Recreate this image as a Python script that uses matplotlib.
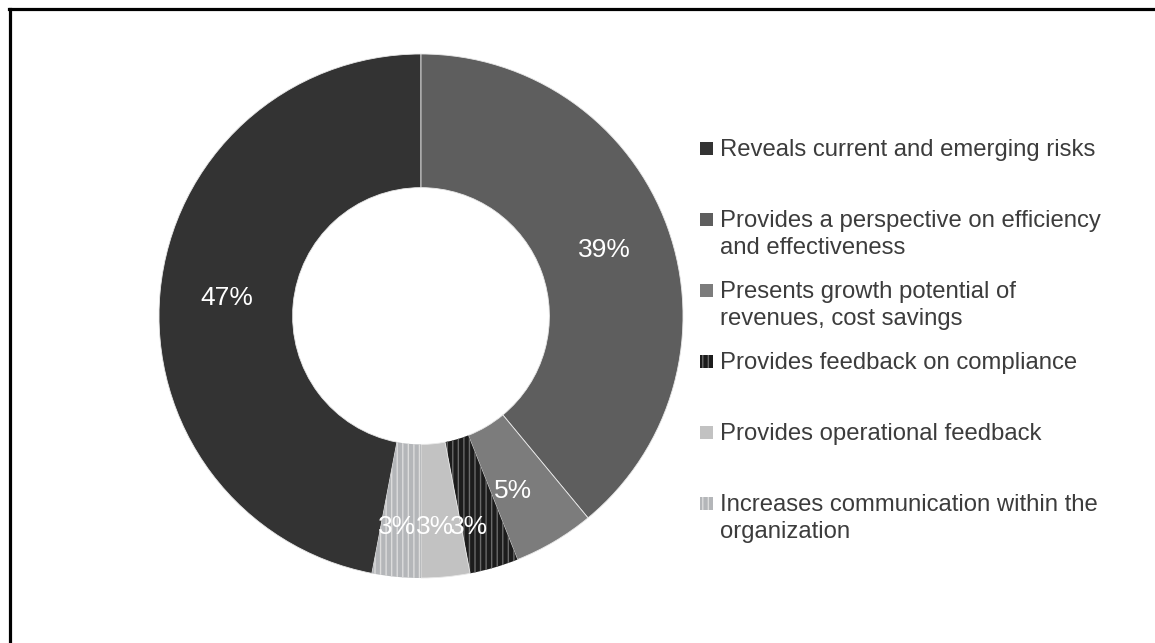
import matplotlib
matplotlib.use("Agg")
import matplotlib.pyplot as plt
from matplotlib.lines import Line2D
from matplotlib.patches import Rectangle
import numpy as np

plt.rcParams['font.family'] = ['Liberation Sans', 'DejaVu Sans']

# Share of respondents per perceived benefit (legend order)
categories = [
    "Reveals current and emerging risks",
    "Provides a perspective on efficiency\nand effectiveness",
    "Presents growth potential of\nrevenues, cost savings",
    "Provides feedback on compliance",
    "Provides operational feedback",
    "Increases communication within the\norganization",
]
shares = [47, 39, 5, 3, 3, 3]

colors = ["#333333", "#5e5e5e", "#7c7c7c", "#1c1c1c", "#c2c2c2", "#b4b6b9"]
hatches = [None, None, None, "|||", None, "|||"]
hatch_colors = [None, None, None, "#6a6a6a", None, "#dcdcdc"]
# label placement: radius (fraction of outer radius) and angular nudge (deg)
label_radius = [0.745, 0.745, 0.755, 0.826, 0.807, 0.81]
label_nudge = [0, 0, -2.9, -3.4, -1.6, -1.1]

W, H, DPI = 1155, 643, 100
fig = plt.figure(figsize=(W / DPI, H / DPI), dpi=DPI, facecolor="white")

cx, cy, R = 421, 316, 262
ax = fig.add_axes([(cx - R) / W, (H - cy - R) / H, 2 * R / W, 2 * R / H])

# First slice ends at 12 o'clock, slices run clockwise
start = 90 + 360 * shares[0] / sum(shares)
wedges, _ = ax.pie(shares, colors=colors, startangle=start, counterclock=False,
                   radius=1.0, wedgeprops=dict(width=0.51, linewidth=0.6,
                                               edgecolor="#e8e8e8"))
for w, h, hc in zip(wedges, hatches, hatch_colors):
    if h:
        w.set_hatch(h)
        w.set_edgecolor(hc)
        w.set_linewidth(0)

for w, v, r, dn in zip(wedges, shares, label_radius, label_nudge):
    ang = np.deg2rad((w.theta1 + w.theta2) / 2 + dn)
    ax.text(r * np.cos(ang), r * np.sin(ang), f"{v}%", ha="center", va="center",
            color="white", fontsize=19)

ax.set_xlim(-1, 1)
ax.set_ylim(-1, 1)
ax.set_aspect("equal")
ax.axis("off")

# Legend entries placed down the right side
y0, step = 148, 71
for i, (lab, col) in enumerate(zip(categories, colors)):
    yc = y0 + i * step
    sq = Rectangle(((700) / W, (H - yc - 6.5) / H), 13 / W, 13 / H,
                   transform=fig.transFigure, facecolor=col, edgecolor="none")
    if hatches[i]:
        sq.set_hatch(hatches[i])
        sq.set_edgecolor(hatch_colors[i])
        sq.set_linewidth(0)
    fig.add_artist(sq)
    fig.text(720 / W, (H - yc + 9) / H, lab, ha="left", va="top",
             fontsize=17.2, color="#3c3c3c", linespacing=1.3)

# Frame along top and left edges
fig.add_artist(Line2D([9.5 / W, 9.5 / W], [0, (H - 8.5) / H],
                      transform=fig.transFigure, color="black", lw=2.3))
fig.add_artist(Line2D([8.5 / W, 1], [(H - 8.5) / H, (H - 8.5) / H],
                      transform=fig.transFigure, color="black", lw=2.3))

fig.savefig("out.png", dpi=DPI, facecolor="white")
